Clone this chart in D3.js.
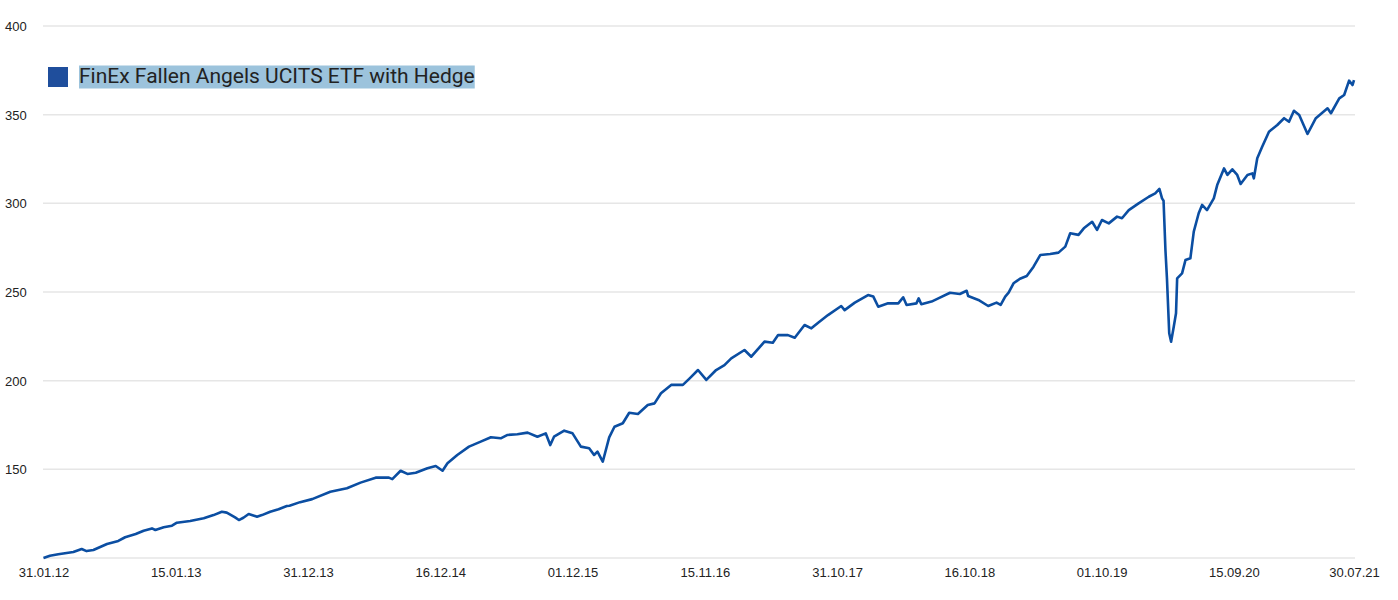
<!DOCTYPE html>
<html><head><meta charset="utf-8">
<script src="https://cdn.jsdelivr.net/npm/d3@7"></script>
<style>
html,body{margin:0;padding:0;background:#fff;}
svg{display:block;}
</style></head>
<body>
<svg id="chart" width="1398" height="600"></svg>
<script>
const seriesName = "FinEx Fallen Angels UCITS ETF with Hedge";
const dates = [
"2012-01-31","2012-02-17","2012-03-10","2012-04-19","2012-05-11","2012-05-24","2012-06-11","2012-07-17","2012-08-16","2012-09-03","2012-10-01","2012-10-22","2012-11-13","2012-11-22","2012-12-14",
"2013-01-05","2013-01-18","2013-02-22","2013-03-30","2013-04-25","2013-05-17","2013-05-30","2013-06-21","2013-07-01","2013-07-13","2013-07-27","2013-08-18","2013-08-31","2013-09-22","2013-10-14","2013-11-05","2013-11-12","2013-12-10",
"2014-01-11","2014-02-28","2014-04-13","2014-05-19","2014-06-28","2014-08-02","2014-08-11","2014-09-02","2014-09-20","2014-10-12","2014-11-12","2014-12-04","2014-12-22",
"2015-01-04","2015-01-30","2015-03-02","2015-04-02","2015-04-29","2015-05-25","2015-06-12","2015-07-08","2015-08-04","2015-08-30","2015-09-21","2015-10-03","2015-10-13","2015-11-09","2015-12-01","2015-12-23",
"2016-01-14","2016-01-27","2016-02-05","2016-02-19","2016-03-07","2016-03-21","2016-04-12","2016-04-29","2016-05-22","2016-06-17","2016-07-05","2016-07-22","2016-08-18","2016-09-18","2016-10-06","2016-10-28","2016-11-19","2016-12-15",
"2017-01-06","2017-01-24","2017-02-28","2017-03-18","2017-04-22","2017-05-14","2017-05-28","2017-06-23","2017-07-11","2017-08-06","2017-08-24","2017-09-11","2017-10-07","2017-11-11","2017-11-20","2017-12-17",
"2018-01-21","2018-02-04","2018-02-17","2018-03-15","2018-04-11","2018-04-24","2018-05-03","2018-05-29","2018-06-04","2018-06-11","2018-07-08","2018-07-26","2018-08-26","2018-09-21","2018-10-09","2018-10-13","2018-11-09","2018-12-05","2018-12-27",
"2019-01-07","2019-01-19","2019-01-28","2019-02-10","2019-02-27","2019-03-17","2019-04-04","2019-04-22","2019-05-18","2019-06-09","2019-06-27","2019-07-10","2019-08-01","2019-08-15","2019-09-06","2019-09-19","2019-10-02","2019-10-20","2019-11-11","2019-11-24","2019-12-12",
"2020-01-07","2020-02-03","2020-02-20","2020-03-02","2020-03-09","2020-03-13","2020-03-18","2020-03-22","2020-03-28","2020-04-02","2020-04-09","2020-04-15","2020-04-18","2020-05-01","2020-05-10","2020-05-23","2020-06-01","2020-06-14","2020-06-23","2020-07-06","2020-07-24","2020-08-02","2020-08-20","2020-08-29","2020-09-11","2020-09-24","2020-10-03","2020-10-21","2020-11-03","2020-11-07","2020-11-16","2020-11-29","2020-12-17",
"2021-01-08","2021-01-26","2021-02-08","2021-02-21","2021-03-07","2021-03-29","2021-04-20","2021-05-21","2021-05-30","2021-06-21","2021-07-04","2021-07-17","2021-07-26","2021-07-30"
];
const values = [
100,101.3,102.1,103.4,105.1,103.9,104.5,107.9,109.6,111.7,113.5,115.4,116.7,115.8,117.3,
118.2,119.9,120.9,122.4,124.2,126.1,125.6,122.9,121.4,122.7,124.8,123.3,124.2,126.1,127.5,129.3,129.5,131.5,
133.2,137.4,139.3,142.5,145.3,145.3,144.5,149.2,147.4,148.1,150.6,151.9,149.2,
153.4,158.1,162.8,165.6,168.1,167.5,169.4,169.8,170.7,168.4,170.3,163.7,168.4,171.8,170.3,162.8,
161.9,158.1,160,154.3,168,174,176,181.9,181.2,186.3,187.2,192.9,197.6,197.6,201.3,206,200.4,206,
208.8,212.6,217.3,213.5,222,221.4,225.7,225.7,224.2,231.4,229.5,232.7,237,242.1,239.8,244,
248.3,247.4,241.7,243.6,243.6,247,242.7,243.6,246.4,243.1,244.6,246.4,249.6,248.9,250.7,247.7,245.5,242.1,244,
242.7,247.4,249.6,254.9,257.5,259,264.3,270.9,271.4,272.2,275.6,283.1,282.2,285.9,289.6,285,290.6,288.7,292.5,291.6,296.2,
300,303.7,305.6,308.1,302.8,301.5,273.7,257.7,226.7,222,230.4,238,257.7,260.5,268,269,284,294.4,299.1,296.2,302.8,310.3,319.7,316,319.2,316,310.9,316,316.9,314.1,325.4,331.9,340.4,
344.2,348,346,352.2,349.8,339.1,348,353.6,350.8,359.2,361.1,369.2,366.7,369.5
];
const xTickLabels = ["31.01.12","15.01.13","31.12.13","16.12.14","01.12.15","15.11.16","31.10.17","16.10.18","01.10.19","15.09.20","30.07.21"];
const yTicks = [150,200,250,300,350,400];
const yGrid = [100,150,200,250,300,350,400];

const parseISO = d3.timeParse("%Y-%m-%d");
const parseLbl = d3.timeParse("%d.%m.%y");
const fmtLbl = d3.timeFormat("%d.%m.%y");
const data = dates.map((d,i)=>({date:parseISO(d), value:values[i]}));
const tickDates = xTickLabels.map(parseLbl);

const svg = d3.select("#chart");
const x = d3.scaleTime().domain([parseISO("2012-01-31"), parseISO("2021-07-30")]).range([43.5, 1354]);
const y = d3.scaleLinear().domain([100,400]).range([558,26]);

// grid
svg.append("g").selectAll("line").data(yGrid).join("line")
  .attr("x1",43).attr("x2",1355)
  .attr("y1",d=>y(d)).attr("y2",d=>y(d))
  .attr("stroke","#e6e6e6").attr("stroke-width",1.5);

// y axis labels
const yAxis = d3.axisLeft(y).tickValues(yTicks).tickSize(0);
const gy = svg.append("g").attr("transform","translate(5,0)").call(yAxis);
gy.select(".domain").remove();
gy.selectAll("text").attr("text-anchor","start").attr("x",0).attr("dy","0.35em")
  .style("font-family","'Liberation Sans', Arial, sans-serif").style("font-size","13px").attr("fill","#222");

// x axis labels
const xAxis = d3.axisBottom(x).tickValues(tickDates).tickFormat(fmtLbl).tickSize(0);
const gx = svg.append("g").attr("transform","translate(0,558)").call(xAxis);
gx.select(".domain").remove();
gx.selectAll("text").attr("y",10).attr("dy","0.71em")
  .style("font-family","'Liberation Sans', Arial, sans-serif").style("font-size","13px").attr("fill","#222");

// line
const line = d3.line().x(d=>x(d.date)).y(d=>y(d.value));
svg.append("path").datum(data).attr("d",line)
  .attr("fill","none").attr("stroke","#0b4ea2").attr("stroke-width",2.6).attr("stroke-linejoin","round");

// legend
const lg = svg.append("g");
lg.append("rect").attr("x",48).attr("y",67).attr("width",20).attr("height",20).attr("fill","#1f4e9c");
const bg = lg.append("rect").attr("x",79).attr("y",65.5).attr("height",23).attr("fill","#9cc3dc");
const lt = lg.append("text").attr("x",79).attr("y",83).text(seriesName)
  .style("font-family","Roboto, sans-serif").style("font-size","21px").attr("fill","#222");
bg.attr("width", lt.node().getComputedTextLength());
</script>
</body></html>
